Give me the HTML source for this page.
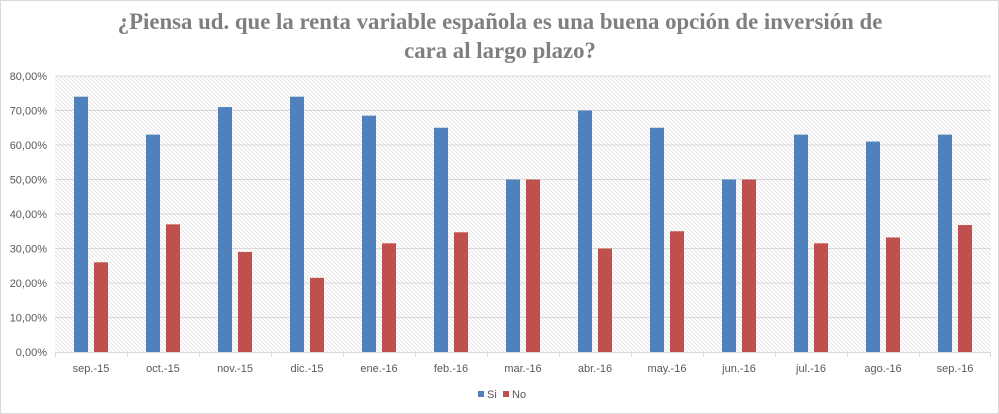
<!DOCTYPE html>
<html><head><meta charset="utf-8"><style>
body{margin:0;background:#fff;}
svg{display:block;font-family:"Liberation Sans",sans-serif;}
</style></head><body>
<svg id="chart" width="999" height="414" viewBox="0 0 999 414">
<defs><pattern id="hatch" width="4" height="4" patternUnits="userSpaceOnUse"><path d="M-1,-1 L5,5 M-1,3 L1,5 M3,-1 L5,1" stroke="#dcdcdc" stroke-width="0.7"/></pattern></defs>
<rect x="0.5" y="0.5" width="998" height="413" fill="#fff" stroke="#d9d9d9"/>
<text x="500" y="29" text-anchor="middle" font-family="Liberation Serif,serif" font-weight="bold" font-size="22.8" fill="#7f7f7f">¿Piensa ud. que la renta variable española es una buena opción de inversión de</text>
<text x="500" y="58" text-anchor="middle" font-family="Liberation Serif,serif" font-weight="bold" font-size="22.8" fill="#7f7f7f">cara al largo plazo?</text>
<rect x="55" y="76" width="936" height="276" fill="url(#hatch)"/>
<g id="grid"></g><g id="bars"></g><g id="axes"></g>
<g>
<rect x="478" y="391" width="6" height="6" fill="#4f81bd"/>
<text x="487" y="398" font-size="11" fill="#595959">Si</text>
<rect x="503" y="391" width="6" height="6" fill="#c0504d"/>
<text x="512" y="398" font-size="11" fill="#595959">No</text>
</g>
</svg>
<script>
const categories=["sep.-15","oct.-15","nov.-15","dic.-15","ene.-16","feb.-16","mar.-16","abr.-16","may.-16","jun.-16","jul.-16","ago.-16","sep.-16"];
const siValues=[74,63,71,74,68.5,65,50,70,65,50,63,61,63];
const noValues=[26,37,29,21.5,31.5,34.7,50,30,35,50,31.5,33.2,36.8];
const yTicks=[0,10,20,30,40,50,60,70,80];
const NS="http://www.w3.org/2000/svg";
const L=55,R=991,T=76,B=352,maxV=80;
const cw=(R-L)/categories.length;
const y=v=>B-(v/maxV)*(B-T);
const xc=i=>L+cw*(i+0.5);
function mk(tag,attrs,parent){const e=document.createElementNS(NS,tag);for(const k in attrs)e.setAttribute(k,attrs[k]);parent.appendChild(e);return e;}
const grid=document.getElementById('grid'),bars=document.getElementById('bars'),axes=document.getElementById('axes');
yTicks.forEach(t=>{
  if(t>0){const g=mk('line',{x1:L,x2:R,y1:y(t),y2:y(t),stroke:'#d9d9d9','stroke-width':1},grid);
  
  }
  const tx=mk('text',{x:47,y:y(t)+4,'text-anchor':'end','font-size':11,fill:'#595959'},axes);
  tx.textContent=t.toFixed(2).replace('.',',')+'%';
  
  
});
const ax=mk('line',{x1:L,x2:R,y1:B+0.5,y2:B+0.5,stroke:'#d9d9d9'},axes);


categories.forEach((c,i)=>{
  const tk=mk('line',{x1:L+cw*i+0.5,x2:L+cw*i+0.5,y1:B,y2:B+5,stroke:'#d9d9d9'},axes);
  
  
  const b1=mk('rect',{x:xc(i)-17,y:y(siValues[i]),width:14,height:B-y(siValues[i]),fill:'#4f81bd'},bars);
  
  
  const b2=mk('rect',{x:xc(i)+3,y:y(noValues[i]),width:14,height:B-y(noValues[i]),fill:'#c0504d'},bars);
  
  
  const t=mk('text',{x:xc(i),y:372,'text-anchor':'middle','font-size':11,fill:'#595959'},axes);
  t.textContent=c;
  
  
});
const tk=mk('line',{x1:R-0.5,x2:R-0.5,y1:B,y2:B+5,stroke:'#d9d9d9'},axes);


</script>
</body></html>
